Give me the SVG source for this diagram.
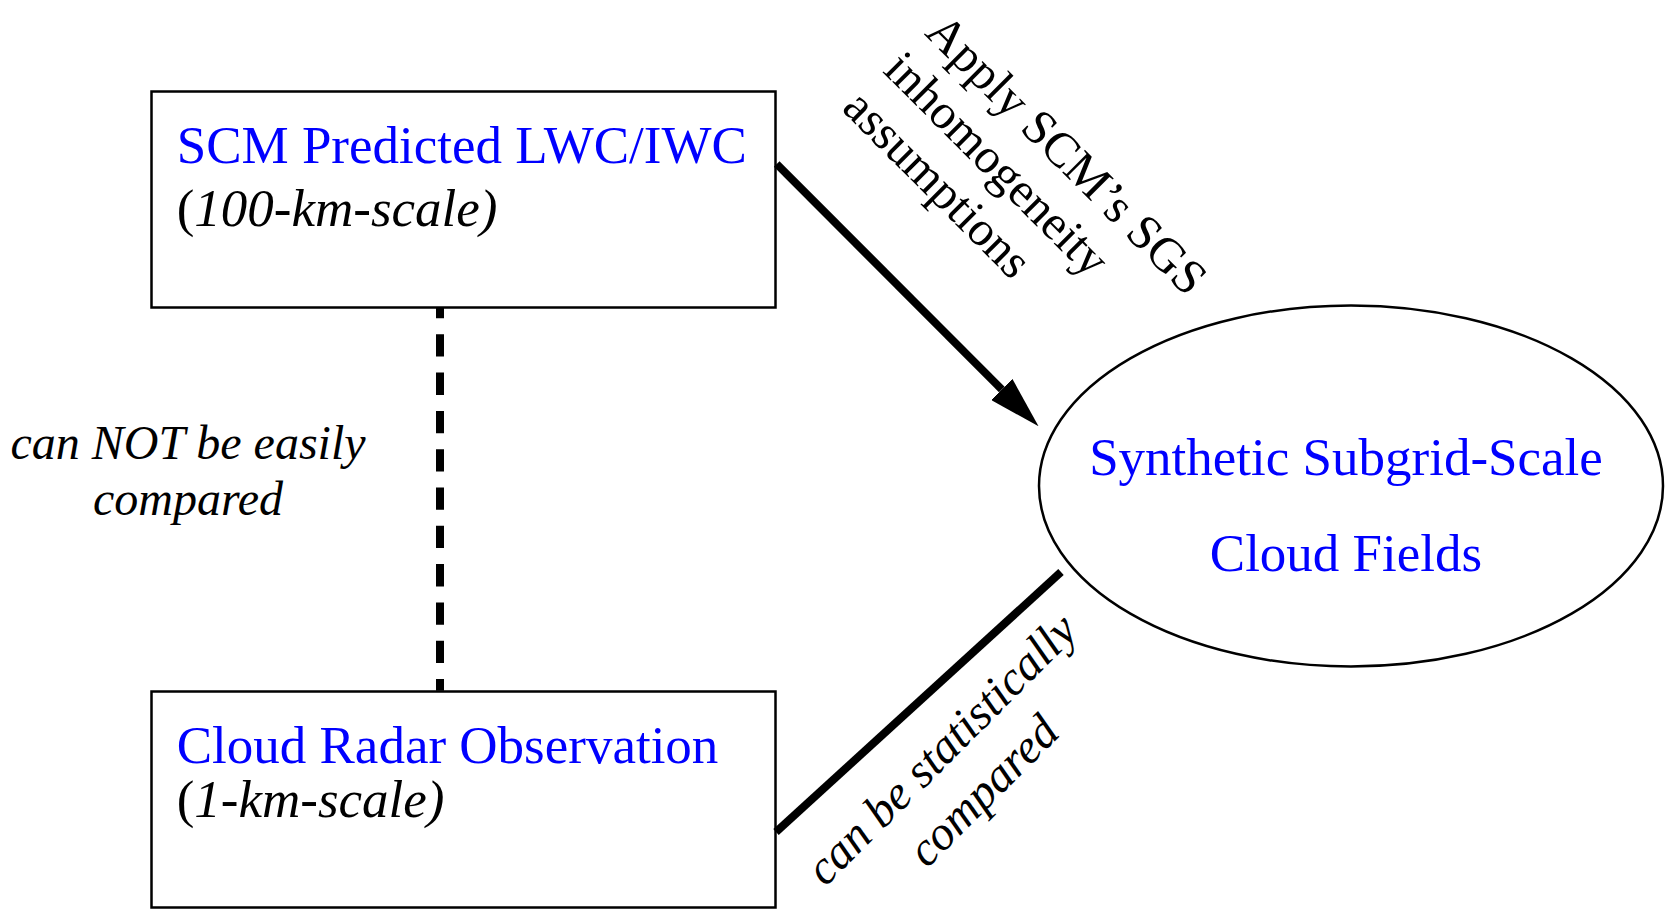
<svg xmlns="http://www.w3.org/2000/svg" width="1669" height="913" viewBox="0 0 1669 913">
<style>
  .node { fill: none; stroke: #000; stroke-width: 2.5; }
  .title { font-family: "Liberation Serif", "Times New Roman", serif; font-size: 53px; fill: #0000ff; }
  .sub { font-family: "Liberation Serif", "Times New Roman", serif; font-size: 53px; font-style: italic; fill: #000; }
  .up { font-style: normal; }
  .lbl { font-family: "Liberation Serif", "Times New Roman", serif; font-size: 49px; fill: #000; }
  .lbli { font-family: "Liberation Serif", "Times New Roman", serif; font-size: 48px; font-style: italic; fill: #000; }
  .conn { fill: none; stroke: #000; stroke-width: 8; stroke-linecap: butt; }
</style>
<defs>
  <marker id="arrow" viewBox="0 -15 52 30" refX="0" refY="0" markerWidth="52" markerHeight="30" markerUnits="userSpaceOnUse" orient="auto">
    <path d="M0,-15 L52,0 L0,15 Z" fill="#000"/>
  </marker>
</defs>
<rect width="1669" height="913" fill="#fff"/>
<g id="connectors">
  <line class="conn" x1="440" y1="307.3" x2="440" y2="690.7" stroke-dasharray="22.3 16" stroke-dashoffset="11.3"/>
  <line class="conn" x1="776.7" y1="164" x2="1001.8" y2="389.5" marker-end="url(#arrow)"/>
  <line class="conn" x1="776" y1="832" x2="1061" y2="572"/>
</g>
<g id="scm">
  <rect class="node" x="151.5" y="91.5" width="624" height="216"/>
  <text class="title" x="176.7" y="162.7">SCM Predicted LWC/IWC</text>
  <text class="sub" x="176.7" y="225.7"><tspan class="up">(</tspan>100-km-scale)</text>
</g>
<g id="radar">
  <rect class="node" x="151.5" y="691.5" width="624" height="216"/>
  <text class="title" x="176.7" y="762.7">Cloud Radar Observation</text>
  <text class="sub" x="176.7" y="816.7"><tspan class="up">(</tspan>1-km-scale)</text>
</g>
<g id="synthetic">
  <ellipse class="node" cx="1351" cy="486" rx="312" ry="180.5"/>
  <text class="title" x="1346" y="475" text-anchor="middle">Synthetic Subgrid-Scale</text>
  <text class="title" x="1346" y="570.7" text-anchor="middle">Cloud Fields</text>
</g>
<g id="label-apply" transform="rotate(45)">
  <text class="lbl" x="677" y="-629">Apply SCM’s SGS</text>
  <text class="lbl" x="674" y="-573">inhomogeneity</text>
  <text class="lbl" x="672" y="-517">assumptions</text>
</g>
<g id="label-notcompared">
  <text class="lbli" x="188" y="459.3" text-anchor="middle">can NOT be easily</text>
  <text class="lbli" x="188" y="515" text-anchor="middle">compared</text>
</g>
<g id="label-statcompared" transform="rotate(-45)">
  <text class="lbli" x="136" y="1211" text-anchor="middle">can be statistically</text>
  <text class="lbli" x="136" y="1270" text-anchor="middle">compared</text>
</g>
</svg>
